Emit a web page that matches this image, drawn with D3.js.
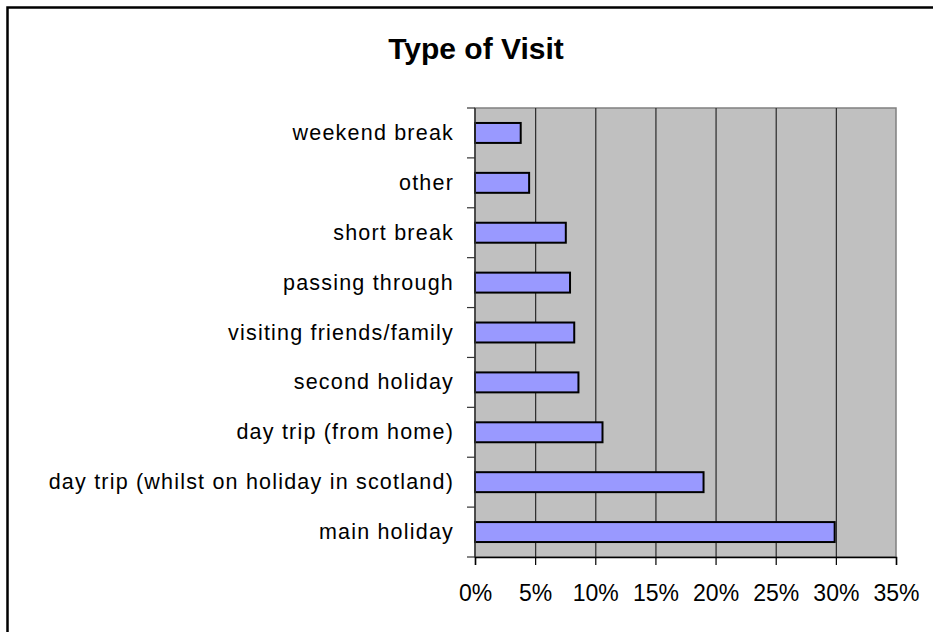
<!DOCTYPE html>
<html>
<head>
<meta charset="utf-8">
<script src="https://cdn.jsdelivr.net/npm/d3@7"></script>
<style>
  html, body { margin: 0; background: #fff; overflow: hidden; }
  svg { display: block; }
  text { font-family: "Liberation Sans", Arial, sans-serif; }
</style>
</head>
<body>
<div id="chart"></div>
<script>
const categories = [
  "weekend break",
  "other",
  "short break",
  "passing through",
  "visiting friends/family",
  "second holiday",
  "day trip (from home)",
  "day trip (whilst on holiday in scotland)",
  "main holiday"
];
const values = [3.8, 4.5, 7.55, 7.9, 8.25, 8.6, 10.6, 19.0, 29.9];
const xTicks = [0, 5, 10, 15, 20, 25, 30, 35];

const width = 933;
const height = 632;
const margin = { top: 108, right: 37, bottom: 75, left: 475 };

const svg = d3.select('#chart')
  .append('svg')
  .attr('width', width)
  .attr('height', height);

// outer chart border (right and bottom edges fall outside the picture)
svg.append('rect')
  .attr('x', 7.5).attr('y', 7.5)
  .attr('width', 1000).attr('height', 700)
  .attr('fill', 'none')
  .attr('stroke', '#000')
  .attr('stroke-width', 2.5);

const x = d3.scaleLinear()
  .domain([0, 35])
  .range([margin.left, width - margin.right]);

const y = d3.scaleBand()
  .domain(categories)
  .range([margin.top, height - margin.bottom])
  .paddingInner(0.6)
  .paddingOuter(0.3);

// plot area
svg.append('rect')
  .attr('x', x(0)).attr('y', margin.top)
  .attr('width', x(35) - x(0)).attr('height', height - margin.bottom - margin.top)
  .attr('fill', '#c0c0c0')
  .attr('stroke', '#808080')
  .attr('stroke-width', 1.5);

// gridlines
svg.append('g')
  .selectAll('line')
  .data(xTicks.slice(1, -1))
  .join('line')
    .attr('x1', d => x(d) + 0.5).attr('x2', d => x(d) + 0.5)
    .attr('y1', margin.top).attr('y2', height - margin.bottom)
    .attr('stroke', '#2a2a2a')
    .attr('stroke-width', 1.2);

// bars
svg.append('g')
  .selectAll('rect')
  .data(values)
  .join('rect')
    .attr('x', x(0))
    .attr('y', (d, i) => y(categories[i]))
    .attr('width', d => x(d) - x(0))
    .attr('height', y.bandwidth())
    .attr('fill', '#9999ff')
    .attr('stroke', '#000')
    .attr('stroke-width', 2);

// y axis: ticks at category boundaries
const bounds = d3.range(categories.length + 1).map(i => margin.top + i * y.step());
const yAxis = svg.append('g');
yAxis.append('line')
  .attr('x1', x(0)).attr('x2', x(0))
  .attr('y1', margin.top).attr('y2', height - margin.bottom)
  .attr('stroke', '#333').attr('stroke-width', 1.5);
yAxis.selectAll('line.tick')
  .data(bounds)
  .join('line')
    .attr('class', 'tick')
    .attr('x1', x(0) - 8).attr('x2', x(0))
    .attr('y1', d => d).attr('y2', d => d)
    .attr('stroke', '#333').attr('stroke-width', 1.2);
yAxis.selectAll('text')
  .data(categories)
  .join('text')
    .attr('x', x(0) - 21)
    .attr('y', d => y(d) + y.bandwidth() / 2)
    .attr('dy', '0.33em')
    .attr('text-anchor', 'end')
    .attr('font-size', '21.5px')
    .attr('letter-spacing', '1.2px')
    .attr('fill', '#000')
    .text(d => d);

// x axis
svg.append('g')
  .attr('transform', `translate(0, ${height - margin.bottom})`)
  .call(d3.axisBottom(x).tickValues(xTicks).tickSize(8).tickPadding(20).tickFormat(d => d + '%'))
  .call(g => g.select('.domain').attr('stroke', '#000').attr('stroke-width', 1.5))
  .call(g => g.selectAll('.tick line').attr('stroke', '#000').attr('stroke-width', 1.2))
  .call(g => g.selectAll('.tick text')
    .attr('font-size', '23px')
    .attr('font-family', '"Liberation Sans", Arial, sans-serif')
    .attr('fill', '#000'));

// title
svg.append('text')
  .attr('x', 476)
  .attr('y', 59)
  .attr('text-anchor', 'middle')
  .attr('font-size', '30px')
  .attr('font-weight', 'bold')
  .text('Type of Visit');
</script>
</body>
</html>
